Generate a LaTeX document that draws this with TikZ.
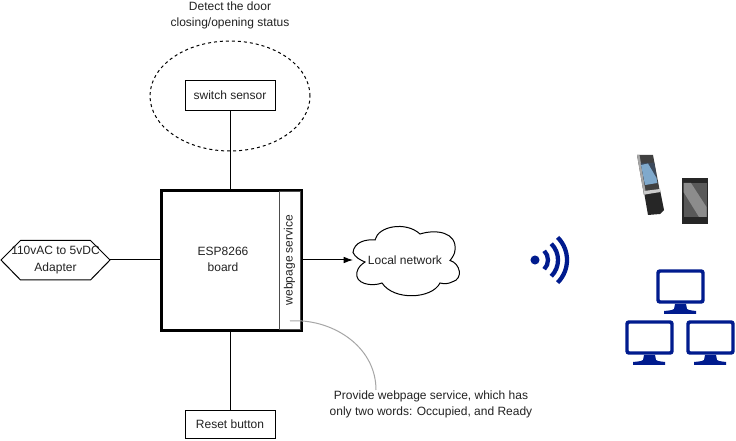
\documentclass[tikz,border=0pt]{standalone}
\usepackage{fontspec}
\setmainfont{Liberation Sans}
\usetikzlibrary{arrows.meta,shapes.geometric}
\definecolor{txt}{HTML}{222222}
\definecolor{navy}{HTML}{001B8E}
\definecolor{phoneblue}{HTML}{7FA9CC}
\definecolor{phoneslate}{HTML}{3C4A5C}
\tikzset{
  x=0.75pt,y=-0.75pt,
  lbl/.style={font=\fontsize{9}{12.5}\selectfont,text=txt,align=center,inner sep=0pt},
  plainbox/.style={draw=black,line width=0.75pt,fill=white,lbl,minimum width=67.5pt,minimum height=22pt},
  wire/.style={draw=black,line width=0.75pt},
  screen/.style={draw=navy,line width=2.6pt,rounded corners=1.5pt},
  wifiarc/.style={draw=navy,line width=3.2pt},
}
\newcommand{\monitor}[2]{%
  \draw[screen] (#1+2,#2+2) rectangle (#1+47,#2+33);
  \fill[navy] (#1+19,#2+35) -- (#1+30,#2+35) -- (#1+31,#2+40) .. controls (#1+33,#2+41.5) and (#1+37,#2+41.5) .. (#1+40,#2+42) -- (#1+40,#2+45) -- (#1+8,#2+45) -- (#1+8,#2+42) .. controls (#1+12,#2+41.5) and (#1+16,#2+41.5) .. (#1+18,#2+40) -- cycle;
}
\begin{document}
\begin{tikzpicture}
\useasboundingbox (0,0) rectangle (736,441);
\fill[white] (0,0) rectangle (736,441);
% sensor
\node[draw=black,dash pattern=on 2.25pt off 2.25pt,line width=0.75pt,ellipse,minimum width=120pt,minimum height=82.5pt,inner sep=0pt,outer sep=0pt] (halo) at (230,96) {};
\node[plainbox] (sensor) at (230,95.5) {switch sensor};
\node[lbl] (detect) at (230,15.5) {Detect the door\\closing/opening status};
% board
\node[draw=black,line width=2.25pt,fill=white,minimum width=105pt,minimum height=104.6pt,inner sep=0pt,outer sep=0pt,anchor=north west] (board) at (161,191) {};
\node[lbl] (esp) at (223,259.5) {ESP8266\\board};
\node[draw=black!70,line width=0.75pt,fill=white,minimum width=15.75pt,minimum height=103pt,inner sep=0pt,outer sep=0pt,anchor=north west] (service) at (279,192) {};
\node[lbl,rotate=90] (servicetxt) at (289.5,260) {webpage service};
% others
\node[plainbox,minimum height=21.5pt] (reset) at (230,424.5) {Reset button};
\draw[line width=0.75pt,fill=white] (1,260) -- (20.5,240.5) -- (90.5,240.5) -- (110,260) -- (90.5,280) -- (20.5,280) -- cycle;
\coordinate (hexr) at (110,260);
\node[lbl] (adapter) at (55.5,260) {110vAC to 5vDC\\Adapter};
% cloud
\draw[line width=0.75pt,fill=white] (353,252.5)
 .. controls (354,242) and (366,239) .. (375,240)
 .. controls (378,226) and (406,221) .. (420,234)
 .. controls (436,229) and (457,232) .. (455,250)
 .. controls (455,254) and (452,258) .. (450,260.5)
 .. controls (460,263) and (464,279) .. (452,282)
 .. controls (448,284) and (444,284) .. (440,283)
 .. controls (432,299) and (394,301) .. (382,283)
 .. controls (372,287) and (354,284) .. (357,272)
 .. controls (358,267) and (362,264) .. (365,262)
 .. controls (360,260) and (355,257) .. (353,252.5) -- cycle;
\coordinate (cloudl) at (353,260);
\node[lbl] (net) at (405,260) {Local network};
% connectors
\draw[wire] (sensor.south) -- (sensor.south |- board.north);
\draw[wire] (reset.north) -- (reset.north |- board.south);
\draw[wire] (hexr) -- (board.west |- hexr);
\draw[wire,-{Latex[length=7pt,width=5pt]}] (board.east |- cloudl) -- (cloudl);
% annotation
\coordinate (callA) at (290,321);
\coordinate (callB) at (376,390);
\draw[draw=black!35,line width=0.75pt] (callA) .. controls (330,318) and (376,345) .. (callB);
\node[lbl] (note) at (431,404.5) {Provide webpage service, which has\\only two words: Occupied, and Ready};
% wifi
\fill[navy] (535,260) circle (3.4pt);
\draw[wifiarc] (535,260) ++(45:13) arc[start angle=-45,end angle=45,radius=9.75pt];
\draw[wifiarc] (535,260) ++(45:23) arc[start angle=-45,end angle=45,radius=17.25pt];
\draw[wifiarc] (535,260) ++(45:32) arc[start angle=-45,end angle=45,radius=24pt];
% phones
\fill[black!85] (644,192) -- (660,190) -- (664,210) -- (660,214) -- (648,215) -- cycle;
\fill[black!75] (637,155) -- (653,155) -- (660,192) -- (644,195) -- cycle;
\fill[black!35] (637,155) -- (639.5,155) -- (646,194) -- (644,195) -- cycle;
\fill[phoneslate] (640.7,163) -- (654.3,162.7) -- (657.3,183) -- (645,185) -- cycle;
\fill[phoneblue] (641,165) -- (648,163.5) -- (656.5,178) -- (657.3,183) -- (645,185) -- cycle;
\fill[black!20] (644,191) -- (660,189) -- (660.5,192) -- (644.5,194.5) -- cycle;
\fill[black!85] (682,178) rectangle (708,224);
\fill[black!65] (683.5,183) rectangle (706.5,217);
\fill[black!45] (683.5,183) -- (691,183) -- (706.5,207) -- (706.5,217) -- (699,217) -- (683.5,192) -- cycle;
% monitors
\monitor{656}{269}
\monitor{625}{320}
\monitor{686}{320}
\end{tikzpicture}
\end{document}
